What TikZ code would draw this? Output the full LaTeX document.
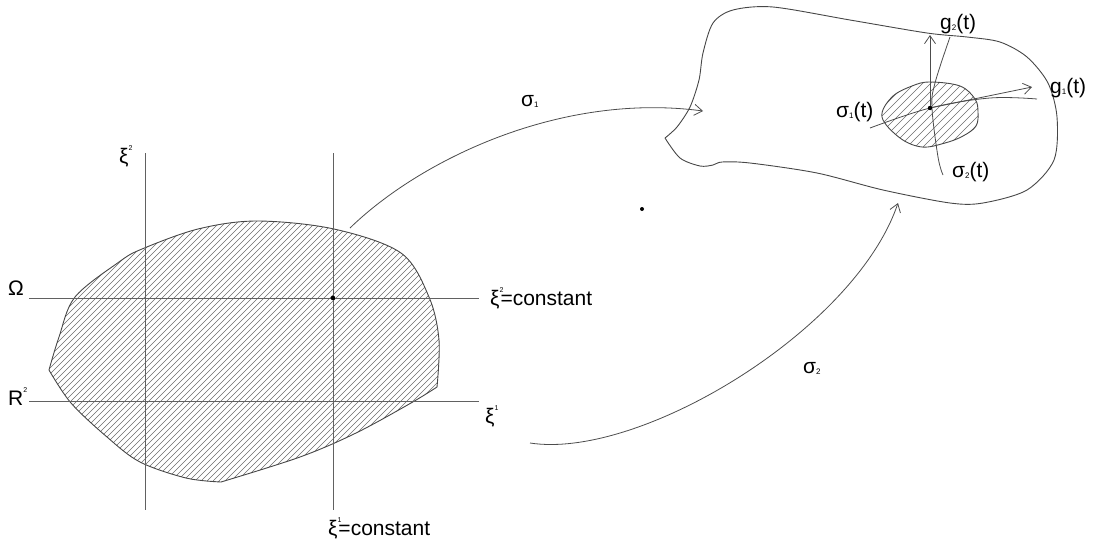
\documentclass[tikz,border=0pt]{standalone}
\usepackage{fontspec}
\setmainfont{Liberation Sans}
\usetikzlibrary{arrows.meta}
\newcommand\tinysup[1]{\raisebox{12.5pt}{\fontsize{7}{7}\selectfont #1}}
\newcommand\tinysub[1]{\raisebox{-1pt}{\fontsize{8}{8}\selectfont #1}}
\begin{document}
\begin{tikzpicture}[x=1pt,y=-1pt,
  gridline/.style={draw=black!62, line width=0.9pt},
  hatchline/.style={draw=black!58, line width=0.6pt},
  outline/.style={draw=black!72, line width=0.9pt},
  mapline/.style={draw=black!70, line width=0.8pt},
  barb/.style={-{Straight Barb[length=8pt,width=11pt]}},
  lbl/.style={font=\fontsize{21}{21}\selectfont, inner sep=0pt, anchor=base west, text=black},
  dotmark/.style={fill=black},
]
\useasboundingbox (0,0) rectangle (1093,542);

\def\leftblob{plot[smooth,tension=0.55] coordinates {(49,370) (59,337) (75,297) (119,262) (142,249) (198,229) (257,221) (334,229) (401,253) (429,297) (439,340) (437,387)} -- plot[smooth,tension=0.55] coordinates {(437,387) (411,403) (356,433) (300,457) (221,482)} -- plot[smooth,tension=0.55] coordinates {(221,482) (186,478) (140,462) (107,437) (71,403) (49,370)} -- cycle}

\def\innerblob{plot[smooth cycle,tension=0.6] coordinates {(882,117) (892,97) (912,86) (930,82) (960,86) (975,99) (978,112) (976,126) (963,136) (945,143) (922,147) (900,138)}}

% hatching of the domain
\begin{scope}
  \clip \leftblob;
  \foreach \c in {262,268,...,928} \draw[hatchline] ({\c-520},520) -- (\c,0);
\end{scope}
\draw[outline] \leftblob;

% grid lines
\coordinate (v1t) at (145,153); \coordinate (v1b) at (145,510);
\coordinate (v2t) at (333,153); \coordinate (v2b) at (333,510);
\coordinate (h1l) at (29,298);  \coordinate (h1r) at (479,298);
\coordinate (h2l) at (29,401);  \coordinate (h2r) at (479,401);
\draw[gridline] (v1t) -- (v1b);
\draw[gridline] (v2t) -- (v2b);
\draw[gridline] (h1l) -- (h1r);
\draw[gridline] (h2l) -- (h2r);
\fill[dotmark] (333,298) circle (2.3);

% labels on the left
\node[lbl] (lxi2) at (119,163) {ξ\tinysup{2}};
\node[lbl] (lomega) at (8,295) {Ω};
\node[lbl] (lr2) at (8,405) {R\tinysup{2}};
\node[lbl] (lxi2c) at (490,305) {ξ\tinysup{2}\hspace{-3pt}=constant};
\node[lbl] (lxi1) at (485,423) {ξ\tinysup{1}};
\node[lbl] (lxi1c) at (328,535) {ξ\tinysup{1}\hspace{-3pt}=constant};

% surface (right)
\draw[outline] plot[smooth,tension=0.5] coordinates {(665,138) (677,127) (690,107) (699,80) (703,53) (713,23) (733,10) (773,7) (850,20) (927,33) (967,37) (1000,42) (1027,57) (1048,83) (1057,117) (1054,160) (1027,190) (983,203) (950,203) (883,190) (817,173) (750,163) (722,162) (713,165) (700,166) (680,158) (665,138)};

\begin{scope}
  \clip \innerblob;
  \foreach \c in {958,966,...,1130} \draw[hatchline] ({\c-200},200) -- (\c,0);
\end{scope}
\draw[outline] \innerblob;

% coordinate curves and tangent vectors
\coordinate (P) at (930,108);
\coordinate (g1tip) at (1032,87);
\coordinate (g2tip) at (930,35);
\draw[mapline] plot[smooth,tension=0.6] coordinates {(870,128) (930,108) (990,98) (1037,99)};
\draw[mapline] plot[smooth,tension=0.6] coordinates {(943,175) (938,157) (932,108) (935,83) (950,37)};
\draw[mapline,barb] (P) -- (g1tip);
\draw[mapline,barb] (P) -- (g2tip);
\fill[dotmark] (P) circle (2.2);

\node[lbl] (lg2) at (940,29) {g\tinysub{2}(t)};
\node[lbl] (lg1) at (1050,93) {g\tinysub{1}(t)};
\node[lbl] (ls1t) at (836,117) {σ\tinysub{1}(t)};
\node[lbl] (ls2t) at (952,177) {σ\tinysub{2}(t)};

% maps
\coordinate (s1a) at (350,228);
\coordinate (s1b) at (703,111);
\coordinate (s2a) at (530,443);
\coordinate (s2b) at (898,203);
\draw[mapline,barb] (s1a) .. controls (420,160) and (560,92) .. (s1b);
\draw[mapline,barb] (s2a) .. controls (640,460) and (855,330) .. (s2b);
\node[lbl] (ls1) at (521,106) {σ\tinysub{1}};
\node[lbl] (ls2) at (803,373) {σ\tinysub{2}};

\fill[dotmark] (642,209) circle (2);
\end{tikzpicture}
\end{document}
